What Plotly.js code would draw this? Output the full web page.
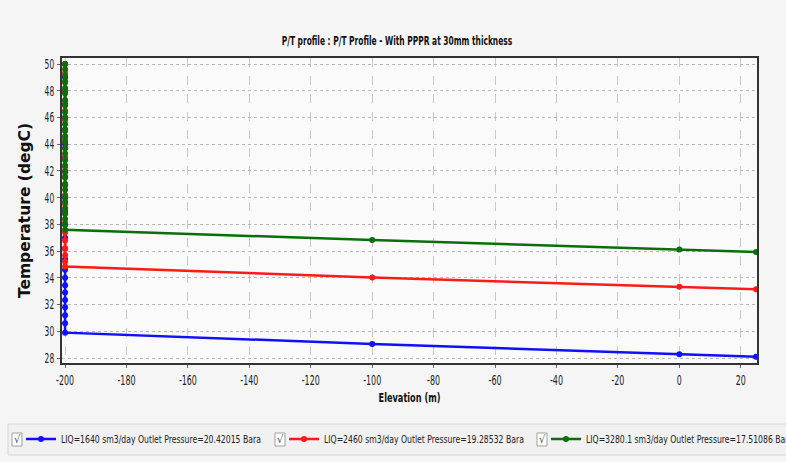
<!DOCTYPE html>
<html>
<head>
<meta charset="utf-8">
<script src="https://cdn.plot.ly/plotly-3.0.1.min.js"></script>
<style>
html,body{margin:0;padding:0;background:#f5f5f5;}
#chart{width:786px;height:462px;}
</style>
</head>
<body>
<div id="chart"></div>
<script>
// Elevation (m) values for each series
var xBlue = [-200,-200,-200,-200,-200,-200,-200,-200,-200,-200,-200,-200,-200,-200,-200,-200,-200,-200,-200,-200,-200,-200,-200,-200,-200,-100,0,25];
var yBlue = [50,49.0,48.0,47.0,46.0,45.0,44.0,43.0,42.0,41.0,40.0,39.0,38.0,37.0,36.2,35.4,34.6,34.0,33.45,32.9,32.35,31.8,31.2,30.6,29.9,29.06,28.29,28.09];

var xRed = [-200,-200,-200,-200,-200,-200,-200,-200,-200,-200,-200,-200,-200,-200,-200,-200,-200,-200,-200,-200,-200,-200,-200,-200,-100,0,25];
var yRed = [50,49.3,48.6,47.9,47.2,46.5,45.8,45.1,44.4,43.7,43.0,42.3,41.6,40.9,40.2,39.5,38.8,38.1,37.4,36.8,36.2,35.7,35.2,34.85,34.03,33.33,33.14];

var xGreen = [-200,-200,-200,-200,-200,-200,-200,-200,-200,-200,-200,-200,-200,-200,-200,-200,-200,-200,-200,-200,-200,-200,-200,-200,-200,-200,-200,-200,-200,-100,0,25];
var yGreen = [50,49.6,49.1,48.7,48.2,47.8,47.3,46.9,46.4,46.0,45.5,45.1,44.6,44.2,43.7,43.3,42.8,42.4,41.9,41.5,41.0,40.6,40.1,39.7,39.2,38.8,38.4,38.0,37.6,36.83,36.13,35.93];

var seriesNames = [
  "LIQ=1640 sm3/day Outlet Pressure=20.42015 Bara",
  "LIQ=2460 sm3/day Outlet Pressure=19.28532 Bara",
  "LIQ=3280.1 sm3/day Outlet Pressure=17.51086 Bara"
];
var seriesColors = ["#1010ff","#ff1a1a","#0a6e0a"];

var xTicks = [-200,-180,-160,-140,-120,-100,-80,-60,-40,-20,0,20];
var yTicks = [28,30,32,34,36,38,40,42,44,46,48,50];

var narrow = "DejaVu Sans Condensed, Liberation Sans Narrow, sans-serif";
var legendNames = ["legend","legend2","legend3"];

function mk(x,y,i){
  return {x:x,y:y,type:"scatter",mode:"lines+markers",name:seriesNames[i],
    legend:legendNames[i],
    line:{color:seriesColors[i],width:2.5},
    marker:{color:seriesColors[i],size:6,symbol:"circle"}};
}
var data=[mk(xBlue,yBlue,0),mk(xRed,yRed,1),mk(xGreen,yGreen,2)];

function cx(px){return px/786;}
function cy(py){return 1-py/462;}
function pxp(px){return (px-62)/695;}
function pyp(py){return (363-py)/305;}

var annotations=[];
var shapes=[
  {type:"rect",xref:"paper",yref:"paper",x0:pxp(8),x1:pxp(790),y0:pyp(455),y1:pyp(424),
   line:{color:"#d6d6d6",width:1},fillcolor:"#f1f1f1",layer:"below"}
];
var cbX=[12,275,537];
cbX.forEach(function(px){
  shapes.push({type:"rect",xref:"paper",yref:"paper",x0:pxp(px),x1:pxp(px+10),
    y0:pyp(446),y1:pyp(433),line:{color:"#a0a0a0",width:1},fillcolor:"#ffffff"});
  annotations.push({xref:"paper",yref:"paper",x:pxp(px+5),y:pyp(439.5),text:"√",
    showarrow:false,font:{size:11,color:"#555",family:narrow},xanchor:"center",yanchor:"middle"});
});

var legendX=[21,284,546];
function mkLegend(i){
  return {orientation:"h",xref:"container",yref:"container",x:cx(legendX[i]),xanchor:"left",
    y:cy(439),yanchor:"middle",
    bgcolor:"rgba(0,0,0,0)",borderwidth:0,font:{family:narrow,size:11,color:"#222"},itemwidth:30};
}

var layout={
  width:786,height:462,
  paper_bgcolor:"#f5f5f5",plot_bgcolor:"#fafafa",
  margin:{l:62,r:29,t:58,b:99},
  title:{text:"<b>P/T profile : P/T Profile - With PPPR at 30mm thickness</b>",
    font:{family:narrow,size:13,color:"#111"},x:0.505,xanchor:"center",y:0.913,yanchor:"middle"},
  xaxis:{range:[-201,25.3],tickvals:xTicks,ticktext:xTicks.map(String),
    showgrid:true,gridcolor:"#c8c8c8",griddash:"dash",gridwidth:1,
    zeroline:false,showline:true,linecolor:"#333",linewidth:2,mirror:true,
    ticks:"outside",ticklen:3,tickcolor:"#666",
    tickfont:{family:narrow,size:14,color:"#222"},
    title:{text:"<b>Elevation (m)</b>",font:{family:narrow,size:13,color:"#111"},standoff:6}},
  yaxis:{range:[27.63,50.45],tickvals:yTicks,ticktext:yTicks.map(String),
    showgrid:true,gridcolor:"#b8b8b8",griddash:"dot",gridwidth:1,
    zeroline:false,showline:true,linecolor:"#333",linewidth:2,mirror:true,
    ticks:"outside",ticklen:3,tickcolor:"#666",
    tickfont:{family:narrow,size:14,color:"#222"},
    title:{text:"<b>Temperature (degC)</b>",font:{family:"DejaVu Sans, sans-serif",size:15.5,color:"#111"},standoff:4}},
  showlegend:true,
  legend:mkLegend(0),legend2:mkLegend(1),legend3:mkLegend(2),
  shapes:shapes,annotations:annotations
};

// condense horizontal texts (the reference uses a narrow face)
function squish(sel, f){
  document.querySelectorAll(sel).forEach(function(t){
    t.removeAttribute("textLength");
    var L=t.getComputedTextLength();
    if(L>0){t.setAttribute("textLength",(L*f).toFixed(1));t.setAttribute("lengthAdjust","spacingAndGlyphs");}
  });
}
var busy=false;
function squishAll(){
  if(busy) return; busy=true;
  squish(".gtitle",0.64);
  squish(".g-xtitle text",0.7);
  squish(".xtick text",0.63);
  squish(".ytick text",0.6);
  squish(".legendtext, .legend2text, .legend3text",0.78);
  busy=false;
}
var gd=document.getElementById("chart");
Plotly.newPlot(gd,data,layout,{displayModeBar:false,staticPlot:true}).then(function(){
  squishAll();
  gd.on("plotly_afterplot",squishAll);
  var obs=new MutationObserver(function(){ squishAll(); });
  obs.observe(gd,{childList:true,subtree:true});
  [20,80,200,500].forEach(function(t){setTimeout(squishAll,t);});
});
</script>
</body>
</html>
